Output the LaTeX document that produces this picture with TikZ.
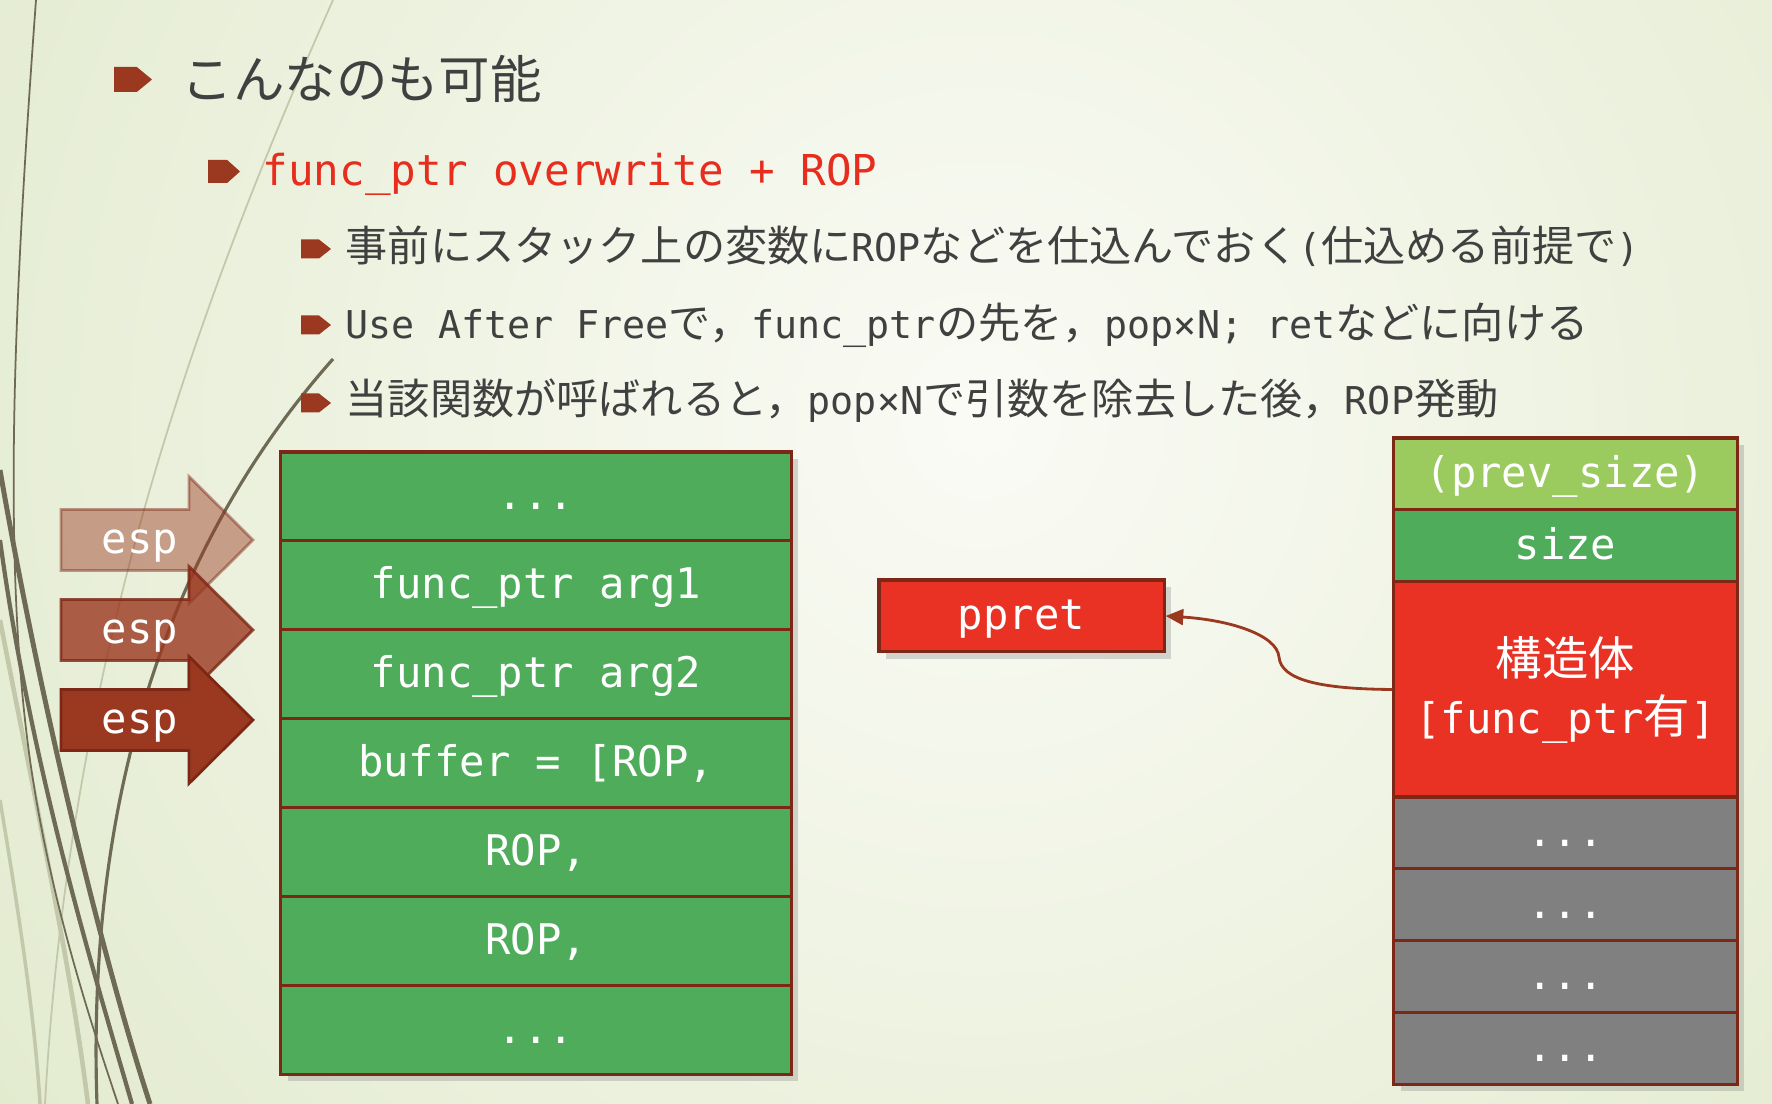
\documentclass[tikz,border=0pt]{standalone}
\usepackage{fontspec}
\setmainfont{DejaVu Sans Mono}
\newfontfamily\jp[Scale=1.1]{Noto Sans CJK JP}
\usetikzlibrary{arrows.meta,shadows}

\definecolor{cgreen}{RGB}{78,172,91}
\definecolor{clight}{RGB}{155,203,95}
\definecolor{cred}{RGB}{233,49,36}
\definecolor{cgray}{RGB}{128,128,128}
\definecolor{cline}{RGB}{125,40,22}
\definecolor{bltcol}{RGB}{155,56,32}
\definecolor{txtcol}{RGB}{64,64,64}
\definecolor{subcol}{RGB}{230,45,30}
\definecolor{bgin}{RGB}{250,251,245}
\definecolor{bgout}{RGB}{217,228,191}
\definecolor{wispd}{RGB}{110,106,84}
\definecolor{wispl}{RGB}{196,200,170}

% bullet: x, y (centre), width, height
\newcommand{\blt}[4]{\fill[bltcol] (#1,#2-#4/2) -- ++(0.6*#3,0) -- ++(0.4*#3,#4/2) -- ++(-0.4*#3,#4/2) -- ++(-0.6*#3,0) -- cycle;}
\newcommand{\dts}{...}

\tikzset{
  cell/.style={draw=cline,line width=0.9pt,text=white,inner sep=0pt,
    font=\fontsize{12pt}{15pt}\selectfont,
    drop shadow={shadow xshift=2pt,shadow yshift=-2pt,opacity=0.3}},
  onerow/.style={text height=0.9em,text depth=0.14em},
  lcell/.style={cell,onerow,minimum width=5.1cm,minimum height=0.889cm,fill=cgreen},
  rcell/.style={cell,minimum width=3.43cm,minimum height=0.718cm},
  item/.style={anchor=base west,inner sep=0pt,text=txtcol,font=\fontsize{10.9pt}{14pt}\selectfont},
  conn/.style={draw=bltcol,line width=0.8pt,-{Triangle[length=5pt,width=4.5pt]}}
}

\begin{document}
\begin{tikzpicture}[x=0.01cm,y=-0.01cm]
\useasboundingbox (0,0) rectangle (1772,1104);
% background
\begin{scope}
\clip (0,0) rectangle (1772,1104);
\fill[bgout] (0,0) rectangle (1772,1104);
\shade[inner color=bgin,outer color=bgout] (980,420) circle (1700);
\end{scope}

% wisps
\draw[wispl,line width=0.5pt] (333,0) .. controls (200,300) and (70,650) .. (45,1104);
\draw[wispl,line width=1.3pt] (0,620) .. controls (35,800) and (70,960) .. (88,1104);
\draw[wispl,line width=1.0pt] (0,800) .. controls (20,920) and (35,1020) .. (40,1104);
\draw[wispd,line width=0.5pt] (36,0) .. controls (14,300) and (2,560) .. (30,760) .. controls (50,900) and (90,1020) .. (118,1104);
\draw[wispd,line width=1.4pt] (0,470) .. controls (40,700) and (100,950) .. (150,1104);
\draw[wispd,line width=1.2pt] (0,540) .. controls (30,760) and (90,960) .. (132,1104);
\draw[wispd,line width=0.9pt] (333,359) .. controls (190,520) and (85,760) .. (97,1104);

% text
\blt{114}{79.5}{38}{25}
\node[item,font=\fontsize{13.3pt}{17pt}\selectfont\jp] (ttl) at (181,99) {こんなのも可能};
\blt{208}{171.5}{32}{23}
\node[item,text=subcol,font=\fontsize{12.1pt}{14pt}\selectfont] (sub) at (262,186) {func\_ptr overwrite + ROP};
\blt{301}{249}{30}{19}
\node[item] (pt1) at (345,262) {{\jp 事前にスタック上の変数に}ROP{\jp などを仕込んでおく}({\jp 仕込める前提で})};
\blt{301}{325}{30}{19}
\node[item] (pt2) at (345,339) {Use After Free{\jp で，}func\_ptr{\jp の先を，}pop×N; ret{\jp などに向ける}};
\blt{301}{403}{30}{19}
\node[item] (pt3) at (345,415) {{\jp 当該関数が呼ばれると，}pop×N{\jp で引数を除去した後，}ROP{\jp 発動}};

% stack
\foreach \i/\t in {1/\dts,2/func\_ptr arg1,3/func\_ptr arg2,4/{buffer = [ROP,},5/{ROP,},6/{ROP,},7/\dts}
  \node[lcell] (stk\i) at (536,{452+88.9*(\i-0.5)}) {\t};

% esp
\foreach \yc/\op [count=\k] in {540/0.45,630/0.8,720/1}{
  \fill[bltcol,fill opacity=\op,draw=cline,draw opacity=\op,line width=0.8pt]
    (61,\yc-30.5) -- (189,\yc-30.5) -- (189,\yc-63.5) -- (253,\yc)
    -- (189,\yc+63.5) -- (189,\yc+30.5) -- (61,\yc+30.5) -- cycle;
  \node[onerow,inner sep=0pt,text=white,font=\fontsize{12pt}{15pt}\selectfont] (esp\k) at (140,\yc) {esp};
}

% chunk
\node[rcell,onerow,fill=clight] (prv) at (1565.5,474) {(prev\_size)};
\node[rcell,onerow,fill=cgreen] (sz) at (1565.5,545.7) {size};
\node[rcell,fill=cred,minimum height=2.154cm,align=center,font=\fontsize{12pt}{16.5pt}\selectfont] (st) at (1565.5,689.5) {{\jp 構造体}\\{[}func\_ptr{\jp 有}{]}};
\foreach \i in {1,...,4}
  \node[rcell,onerow,fill=cgray] (gr\i) at (1565.5,{797+71.8*(\i-0.5)}) {\dts};

\node[rcell,onerow,fill=cred,minimum width=2.85cm] (ppret) at (1021.5,616) {ppret};
\coordinate (bend) at (1279,657);
\draw[conn] (st.west) .. controls (1320,689) and (1281,680) .. (bend) .. controls (1277,635) and (1230,620) .. (ppret.east);
\end{tikzpicture}
\end{document}
